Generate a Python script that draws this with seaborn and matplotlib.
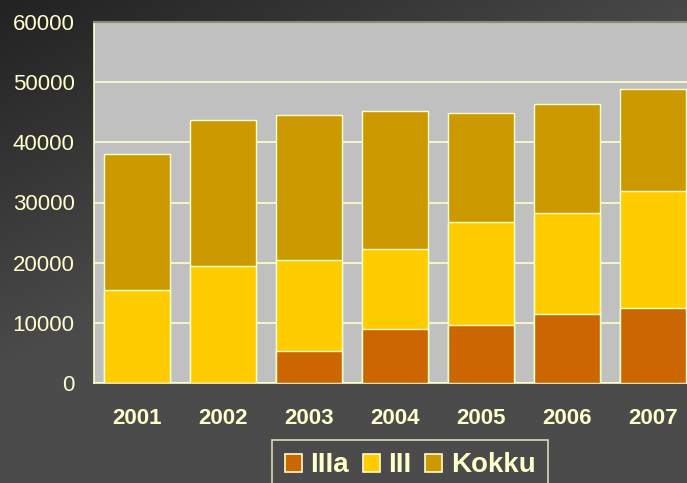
import numpy as np
import pandas as pd
import matplotlib
matplotlib.use('Agg')
import matplotlib.pyplot as plt
from matplotlib.patches import Patch
import seaborn as sns

years = ['2001', '2002', '2003', '2004', '2005', '2006', '2007']
kokku = [38000, 43700, 44600, 45150, 44950, 46300, 48800]
iii = [15500, 19400, 20500, 22200, 26700, 28300, 31950]
iiia = [0, 0, 5300, 8950, 9700, 11450, 12400]

series_names = ['IIIa', 'III', 'Kokku']
series_colors = {'IIIa': '#CC6600', 'III': '#FFCC00', 'Kokku': '#CC9900'}
text_col = '#FFFFCC'

df = pd.DataFrame({'year': years, 'Kokku': kokku, 'III': iii, 'IIIa': iiia})

sns.set_style('white')
plt.rcParams['font.family'] = ['Liberation Sans', 'DejaVu Sans']

W, H = 687, 483
fig = plt.figure(figsize=(W / 100, H / 100), dpi=100)

# gradient background
bg = fig.add_axes([0, 0, 1, 1], zorder=-10)
xx, yy = np.meshgrid(np.linspace(0, 1, 200), np.linspace(0, 1, 200))
t = np.clip(xx * 0.9 + yy * 1.3, 0, 1)
shade = (0x22 + (0x4b - 0x22) * t) / 255
img = np.dstack([shade, shade, shade])
bg.imshow(img, aspect='auto', extent=[0, 1, 0, 1], origin='upper')
bg.axis('off')

ax = fig.add_axes([94 / W, 1 - 383 / H, 602 / W, 361 / H])
ax.set_facecolor('#C0C0C0')

# Kokku is the total, drawn behind; III and IIIa drawn over it
for name in ['Kokku', 'III', 'IIIa']:
    sns.barplot(data=df, x='year', y=name, order=years, color=series_colors[name],
                width=0.77, edgecolor=text_col, linewidth=1.0, saturation=1,
                ax=ax, zorder=3)

ax.set_xlim(-0.5, 6.5)
ax.set_ylim(0, 60000)
ax.set_yticks(np.arange(0, 60001, 10000))
ax.yaxis.grid(True, color=text_col, linewidth=1.2, zorder=0)
ax.set_axisbelow(True)
ax.set_xlabel('')
ax.set_ylabel('')

ax.tick_params(axis='y', colors=text_col, labelsize=16, length=7, width=1, direction='out', pad=7)
ax.tick_params(axis='x', which='major', length=0, labelcolor=text_col, labelsize=16, pad=18)
ax.set_xticks(np.arange(-0.5, 7, 1), minor=True)
ax.tick_params(axis='x', which='minor', length=7, width=1, color=text_col, direction='out')
for lab in ax.get_xticklabels():
    lab.set_fontweight('bold')

for side in ['left', 'bottom']:
    ax.spines[side].set_color(text_col)
    ax.spines[side].set_linewidth(1.2)
ax.spines['top'].set_color('#8a8a7a')
ax.spines['top'].set_linewidth(1.5)
ax.spines['right'].set_visible(False)

handles = [Patch(facecolor=series_colors[n], edgecolor=text_col, linewidth=1.2, label=n)
           for n in series_names]
leg = fig.legend(handles=handles, loc='upper left', bbox_to_anchor=(272 / W, 1 - 440 / H),
                 ncol=3, frameon=True, fontsize=20, handlelength=0.62, handleheight=0.62,
                 handletextpad=0.3, columnspacing=0.5, borderpad=0.45, borderaxespad=0)
leg.get_frame().set_facecolor('none')
leg.get_frame().set_edgecolor(text_col)
leg.get_frame().set_linewidth(1.2)
leg.get_frame().set_boxstyle('square', pad=0)
for txt in leg.get_texts():
    txt.set_color(text_col)
    txt.set_fontweight('bold')

fig.savefig('out.png', dpi=100)
